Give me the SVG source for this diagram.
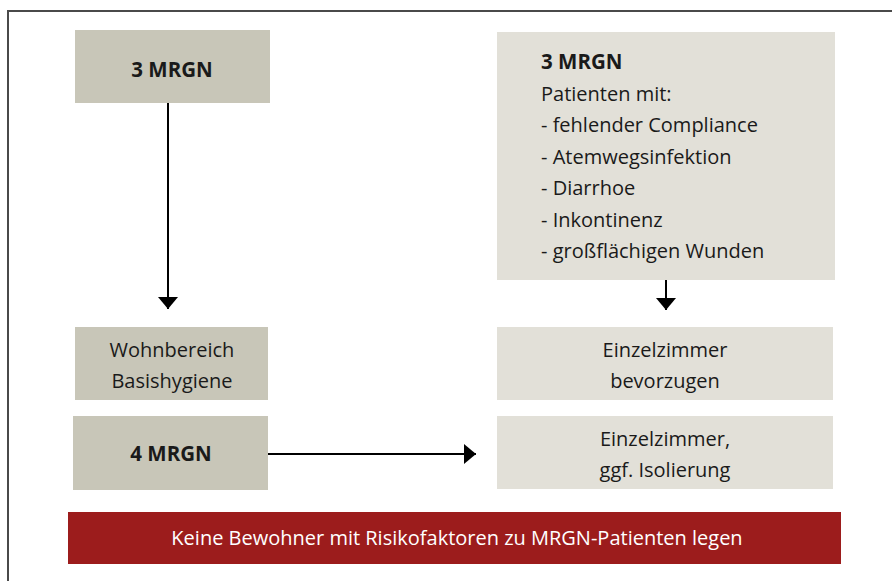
<svg xmlns="http://www.w3.org/2000/svg" width="892" height="581" viewBox="0 0 892 581">
<defs>
<style>
.dark{fill:#c8c6b8}
.light{fill:#e2e0d8}
.t{font-family:"Open Sans","Noto Sans",sans-serif;font-size:20px;fill:#1a1a1a}
.b{font-weight:bold;font-size:20.5px}
.c{text-anchor:middle}
.conn{stroke:#000;stroke-width:2;fill:none}
</style>
<marker id="ah" viewBox="0 0 12 20" refX="12" refY="10" markerWidth="12" markerHeight="20" markerUnits="userSpaceOnUse" orient="auto">
<path d="M0,0 L12,10 L0,20 Z" fill="#000"/>
</marker>
</defs>
<rect width="892" height="581" fill="#fff"/>
<path d="M8,581 V11 H892" stroke="#4a4a4a" stroke-width="2" fill="none"/>
<g id="n-3mrgn-left">
<rect class="dark" x="75" y="30" width="195" height="73"/>
<text class="t b c" x="172" y="77">3 MRGN</text>
</g>
<g id="n-3mrgn-right">
<rect class="light" x="497" y="32" width="338" height="248"/>
<text class="t" x="541" y="69"><tspan class="b">3 MRGN</tspan><tspan x="541" y="101">Patienten mit:</tspan><tspan x="541" y="132">- fehlender Compliance</tspan><tspan x="541" y="164">- Atemwegsinfektion</tspan><tspan x="541" y="195">- Diarrhoe</tspan><tspan x="541" y="227">- Inkontinenz</tspan><tspan x="541" y="258">- großflächigen Wunden</tspan></text>
</g>
<g id="n-wohnbereich">
<rect class="dark" x="75" y="327" width="193" height="73"/>
<text class="t c" x="172" y="357">Wohnbereich</text>
<text class="t c" x="172" y="388">Basishygiene</text>
</g>
<g id="n-4mrgn">
<rect class="dark" x="73" y="416" width="195" height="74"/>
<text class="t b c" x="171" y="461">4 MRGN</text>
</g>
<g id="n-einzel-bev">
<rect class="light" x="497" y="327" width="336" height="73"/>
<text class="t c" x="665" y="357">Einzelzimmer</text>
<text class="t c" x="665" y="388">bevorzugen</text>
</g>
<g id="n-einzel-iso">
<rect class="light" x="497" y="416" width="336" height="73"/>
<text class="t c" x="665" y="446">Einzelzimmer,</text>
<text class="t c" x="665" y="477">ggf. Isolierung</text>
</g>
<g id="n-banner">
<rect x="68" y="512" width="773" height="52" fill="#9c1c1c"/>
<text class="t c" x="457" y="545" style="fill:#fff">Keine Bewohner mit Risikofaktoren zu MRGN-Patienten legen</text>
</g>
<g id="connectors">
<line class="conn" x1="168" y1="103" x2="168" y2="309" marker-end="url(#ah)"/>
<line class="conn" x1="666" y1="280" x2="666" y2="310" marker-end="url(#ah)"/>
<line class="conn" x1="268" y1="454" x2="476" y2="454" marker-end="url(#ah)"/>
</g>
</svg>
